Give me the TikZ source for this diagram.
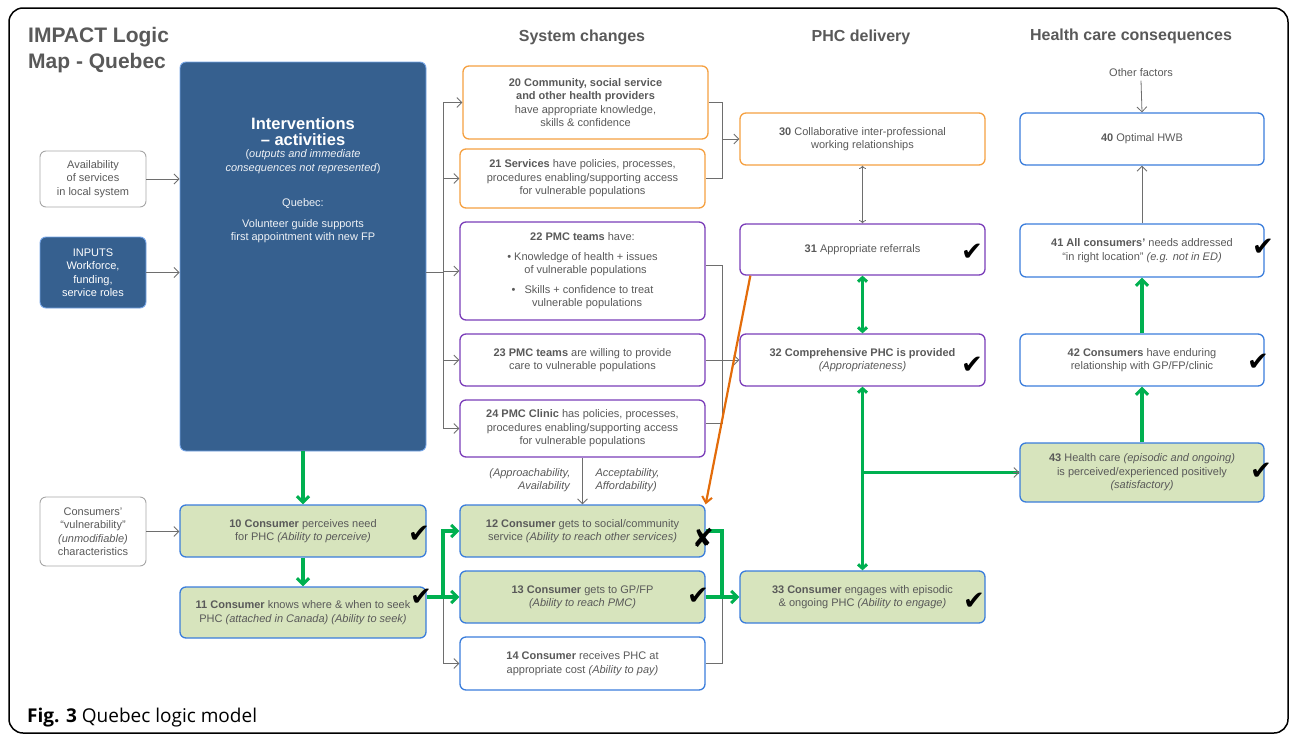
\documentclass[tikz,border=0pt]{standalone}
\usepackage{fontspec}
\setmainfont{Liberation Sans}
\newfontfamily\capfont{Open Sans}
\newfontfamily\tickfont{DejaVu Sans}
\usetikzlibrary{arrows.meta,calc}
\definecolor{boxblue}{HTML}{36608F}
\definecolor{txtgray}{HTML}{595959}
\definecolor{lineblue}{HTML}{3A7DDB}
\definecolor{softgreen}{HTML}{D7E4BD}
\definecolor{arrgreen}{HTML}{00B050}
\definecolor{boxorange}{HTML}{F5A040}
\definecolor{arrorange}{HTML}{E36C0A}
\definecolor{boxpurple}{HTML}{7A3DB8}
\definecolor{arrgray}{HTML}{6E6E6E}

\begin{document}
\begin{tikzpicture}[x=1pt,y=-1pt,
		box/.style={draw, rounded corners=6pt, line width=1.3pt, align=center, text=txtgray, inner sep=0pt, font=\fontsize{11}{13.5}\selectfont},
		size/.style 2 args={minimum width=#1pt, minimum height=#2pt},
		greybox/.style={box, draw=black!35, line width=0.9pt},
		darkbox/.style={box, draw=lineblue!70, fill=boxblue, text=white, line width=0.9pt},
		bluebox/.style={box, draw=lineblue},
		greenbox/.style={box, draw=lineblue, fill=softgreen},
		orangebox/.style={box, draw=boxorange},
		purplebox/.style={box, draw=boxpurple},
		header/.style={text=txtgray, font=\fontsize{16}{18}\selectfont\bfseries},
		note/.style={text=txtgray, align=center, font=\fontsize{11}{13.5}\selectfont},
		tick/.style={font=\tickfont\fontsize{26}{26}\selectfont, inner sep=0pt},
		thinarrow/.style={draw=arrgray, line width=0.8pt, -{Straight Barb[length=5pt,width=10pt]}},
		thinline/.style={draw=arrgray, line width=0.8pt},
		greenline/.style={draw=arrgreen, line width=3.6pt},
		greenarrow/.style={greenline, -{Straight Barb[length=6pt,width=12pt,line width=3pt]}},
		greendouble/.style={greenline, {Straight Barb[length=4pt,width=9pt,line width=3pt]}-{Straight Barb[length=4pt,width=9pt,line width=3pt]}}]
	\useasboundingbox (0,0) rectangle (1295,736);
	\draw[line width=1.5pt, rounded corners=14pt] (9,8) rectangle (1288,733);

	% titles
	\node[anchor=north west, inner sep=0pt, align=left, text=txtgray, font=\fontsize{21}{26}\selectfont\bfseries] (title) at (28,27) {IMPACT Logic\\Map - Quebec};
	\node[header] (hdsys) at (582,37) {System changes};
	\node[header] (hdphc) at (861,37) {PHC delivery};
	\node[header] (hdhcc) at (1131,36) {Health care consequences};
	\node[anchor=base west, inner sep=0pt, font=\capfont\fontsize{19}{22}\selectfont] (caption) at (27,722) {\textbf{Fig. 3} Quebec logic model};

	% left column
	\node[greybox, size={106}{56}] (avail) at (93,179) {Availability\\of services\\in local system};
	\node[darkbox, size={106}{71}] (inputs) at (93,272.5) {INPUTS\\Workforce,\\funding,\\service roles};
	\node[greybox, size={106}{69}] (vuln) at (93,531.5) {Consumers'\\“vulnerability”\\\textit{(unmodifiable)}\\characteristics};

	% interventions
	\node[darkbox, size={246}{389}] (interv) at (303,256.5) {};
	\node[anchor=north, align=center, text=white, font=\fontsize{16.5}{16}\selectfont\bfseries] (intervtitle) at (303,114) {Interventions\\– activities};
	\node[anchor=north, align=center, text=white!92!boxblue, font=\fontsize{11}{13.5}\selectfont] (intervbody) at (303,146) {(\textit{outputs and immediate}\\\textit{consequences not represented})\\[22pt]Quebec:\\[7pt]Volunteer guide supports\\first appointment with new FP};

	\node[greenbox, size={246}{52}] (n10) at (303,531) {\textbf{10 Consumer} perceives need\\for PHC \textit{(Ability to perceive)}};
	\node[greenbox, size={246}{51}] (n11) at (303,612.5) {\textbf{11 Consumer} knows where \& when to seek\\PHC \textit{(attached in Canada) (Ability to seek)}};

	% system changes
	\node[orangebox, size={245}{73}] (n20) at (585.5,102.5) {\textbf{20 Community, social service}\\\textbf{and other health providers}\\have appropriate knowledge,\\skills \& confidence};
	\node[orangebox, size={245}{59}] (n21) at (582.5,178.5) {\textbf{21 Services} have policies, processes,\\procedures enabling/supporting access\\for vulnerable populations};
	\node[purplebox, size={245}{98}] (n22) at (582.5,271) {\textbf{22 PMC teams} have:\\[6pt]• Knowledge of health + issues\\\ \ of vulnerable populations\\[6pt]•\ \ \ Skills + confidence to treat\\\ \ \ vulnerable populations};
	\node[purplebox, size={245}{52}] (n23) at (582.5,360) {\textbf{23 PMC teams} are willing to provide\\care to vulnerable populations};
	\node[purplebox, size={245}{57}] (n24) at (582.5,428.5) {\textbf{24 PMC Clinic} has policies, processes,\\procedures enabling/supporting access\\for vulnerable populations};
	\node[note, anchor=east, align=right] (accleft) at (574,480) {\textit{(Approachability,}\\\textit{Availability}};
	\node[note, anchor=west, align=left] (accright) at (592,480) {\textit{Acceptability,}\\\textit{Affordability)}};
	\node[greenbox, size={245}{52}] (n12) at (582.5,531) {\textbf{12 Consumer} gets to social/community\\service \textit{(Ability to reach other services)}};
	\node[greenbox, size={245}{52}] (n13) at (582.5,597) {\textbf{13 Consumer} gets to GP/FP\\\textit{(Ability to reach PMC)}};
	\node[bluebox, size={245}{53}] (n14) at (582.5,663.5) {\textbf{14 Consumer} receives PHC at\\appropriate cost \textit{(Ability to pay)}};

	% PHC delivery
	\node[orangebox, size={245}{52}] (n30) at (862.5,139) {\textbf{30} Collaborative inter-professional\\working relationships};
	\node[purplebox, size={245}{51}] (n31) at (862.5,249.5) {\textbf{31} Appropriate referrals};
	\node[purplebox, size={245}{52}] (n32) at (862.5,360) {\textbf{32 Comprehensive PHC is provided}\\\textit{(Appropriateness)}};
	\node[greenbox, size={245}{52}] (n33) at (862.5,597) {\textbf{33 Consumer} engages with episodic\\\& ongoing PHC \textit{(Ability to engage)}};

	% health care consequences
	\node[note] (other) at (1141,73) {Other factors};
	\node[bluebox, size={244}{52}] (n40) at (1142,139) {\textbf{40} Optimal HWB};
	\node[bluebox, size={244}{53}] (n41) at (1142,250.5) {\textbf{41 All consumers’} needs addressed\\“in right location” \textit{(e.g. not in ED)}};
	\node[bluebox, size={244}{52}] (n42) at (1142,360) {\textbf{42 Consumers} have enduring\\relationship with GP/FP/clinic};
	\node[greenbox, size={244}{59}] (n43) at (1142,472.5) {\textbf{43} Health care \textit{(episodic and ongoing)}\\is perceived/experienced positively\\\textit{(satisfactory)}};

	% grey connectors
	\coordinate (lb) at (443,0);
	\coordinate (rb) at (722,0);
	\draw[thinarrow] (avail) -- (avail -| interv.west);
	\draw[thinarrow] (inputs) -- (inputs -| interv.west);
	\draw[thinarrow] (vuln) -- (vuln -| n10.west);
	\draw[thinline] (inputs -| interv.east) -- (inputs -| lb);
	\draw[thinline] (lb |- n20.west) -- (lb |- n24.west);
	\foreach \n in {n20,n21,n22,n23,n24}
		\draw[thinarrow] (lb |- \n.west) -- (\n.west);
	\draw[thinline] (n20.east) -- (rb |- n20.east) -- (rb |- n21.east) -- (n21.east);
	\draw[thinarrow] (rb |- n30.west) -- (n30.west);
	\draw[thinline] ($(n22.east)+(0,-6)$) -- ($(rb |- n22.east)+(0,-6)$) -- ($(rb |- n24.east)+(0,-5)$) -- ($(n24.east)+(0,-5)$);
	\draw[thinarrow] (n23.east) -- (n32.west);
	\draw[thinarrow] (n24.south) -- (n12.north);
	\draw[thinarrow] (lb |- n13.west) -- (lb |- n14.west) -- (n14.west);
	\draw[thinline] (n14.east) -- (rb |- n14.east) -- (rb |- n13.east);
	\draw[thinarrow, <->] (n30.south) -- (n31.north);
	\draw[thinarrow] (n41.north) -- (n40.south);
	\draw[thinarrow] (other.south) -- (n40.north);

	% green connectors
	\draw[greenarrow] (interv.south) -- (n10.north);
	\draw[greenarrow] (n10.south) -- (n11.north);
	\draw[greenline] (n11.east |- n13.west) -- (lb |- n13.west);
	\draw[greenline] ($(lb |- n12.west)+(0,-1.8)$) -- (lb |- n13.west);
	\draw[greenarrow] (lb |- n12.west) -- (n12.west);
	\draw[greenarrow] (lb |- n13.west) -- (n13.west);
	\draw[greenline] (n12.east) -| (rb |- n13.east);
	\draw[greenarrow] (n13.east) -- (n33.west);
	\draw[greendouble] (n31.south) -- (n32.north);
	\draw[greendouble] (n32.south) -- (n33.north);
	\draw[greenline] (n32.south |- n43.west) -- (n43.west);
	\draw[thinarrow] ($(n43.west)+(-6,0)$) -- (n43.west);
	\draw[greenarrow] (n43.north) -- (n42.south);
	\draw[greenarrow] (n42.north) -- (n41.south);
	\draw[draw=arrorange, line width=2.2pt, -{Straight Barb[length=6pt,width=10pt,line width=2pt]}] ($(n31.south west)+(11,0)$) -- (n12.north east);

	% marks
	\node[tick] (ck10) at (419,534) {✔};
	\node[tick] (ck11) at (421,597) {✔};
	\node[tick] (ck12) at (703,538) {✘};
	\node[tick] (ck13) at (698,596) {✔};
	\node[tick] (ck31) at (972,252) {✔};
	\node[tick] (ck32) at (972,365) {✔};
	\node[tick] (ck33) at (974,601) {✔};
	\node[tick] (ck41) at (1263,247) {✔};
	\node[tick] (ck42) at (1258,362) {✔};
	\node[tick] (ck43) at (1261,471) {✔};
\end{tikzpicture}
\end{document}
